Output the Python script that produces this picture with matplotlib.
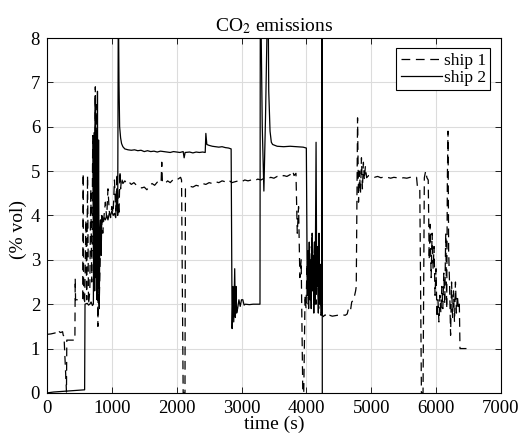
import numpy as np
import matplotlib
matplotlib.use('Agg')
import matplotlib.pyplot as plt

plt.rcParams['font.family'] = ['Liberation Serif', 'DejaVu Serif']
plt.rcParams['mathtext.fontset'] = 'stix'

# ship 1 (dashed)
t_ship1 = [0, 60, 120, 150, 170, 190, 210, 240, 250, 262, 300, 305, 430, 435, 440, 550,
           558, 565, 580, 600, 612, 625, 640, 660, 675, 690, 705, 715, 725, 735, 745, 752,
           760, 768, 775, 785, 795, 805, 820, 840, 860, 880, 900, 920, 940, 960, 980, 1000,
           1020, 1040, 1060, 1080, 1100, 1110, 1125, 1135, 1150, 1170, 1200, 1230, 1260, 1300,
           1340, 1380, 1420, 1460, 1500, 1540, 1580, 1620, 1660, 1700, 1740, 1760, 1770, 1780,
           1820, 1860, 1900, 1940, 1980, 2020, 2060, 2075, 2100, 2128, 2135, 2160, 2200, 2250,
           2300, 2350, 2400, 2450, 2500, 2550, 2600, 2650, 2700, 2750, 2800, 2850, 2900, 2950,
           3000, 3050, 3100, 3150, 3200, 3250, 3300, 3350, 3400, 3450, 3500, 3550, 3600, 3650,
           3700, 3750, 3790, 3810, 3840, 3860, 3880, 3900, 3920, 3945, 3960, 3980, 3995, 4010,
           4030, 4050, 4070, 4090, 4110, 4130, 4150, 4170, 4190, 4210, 4230, 4260, 4290, 4320,
           4360, 4400, 4440, 4480, 4520, 4560, 4600, 4630, 4650, 4680, 4700, 4730, 4760, 4770,
           4790, 4805, 4820, 4835, 4850, 4865, 4880, 4895, 4910, 4930, 4960, 5000, 5050, 5100,
           5150, 5200, 5250, 5300, 5350, 5400, 5450, 5500, 5550, 5600, 5650, 5700, 5715, 5750,
           5775, 5800, 5820, 5840, 5860, 5880, 5895, 5910, 5925, 5940, 5955, 5970, 5985, 6000,
           6015, 6030, 6045, 6060, 6075, 6090, 6105, 6120, 6135, 6150, 6165, 6175, 6185, 6195,
           6210, 6225, 6240, 6255, 6270, 6285, 6300, 6315, 6330, 6345, 6360, 6370, 6470]
co2_ship1 = [1.32, 1.33, 1.35, 1.37, 1.33, 1.38, 1.36, 1.38, 1.30, 1.28, 0.02, 1.19, 1.19, 2.58, 2.10, 2.10,
             4.95, 2.20, 2.00, 3.90, 2.10, 4.90, 2.00, 2.30, 4.60, 2.50, 5.80, 3.20, 5.90, 2.60, 6.90, 3.00,
             6.50, 2.20, 4.10, 1.50, 3.70, 2.00, 3.00, 3.90, 3.60, 4.00, 4.30, 3.95, 4.60, 4.10, 3.95, 4.20,
             4.05, 4.80, 4.10, 4.95, 4.20, 4.00, 5.00, 4.60, 4.85, 4.72, 4.78, 4.72, 4.76, 4.70,
             4.74, 4.68, 4.66, 4.62, 4.64, 4.58, 4.66, 4.72, 4.68, 4.75, 4.72, 4.76, 5.20, 4.75,
             4.72, 4.78, 4.74, 4.80, 4.78, 4.82, 4.86, 4.80, 0.00, 0.00, 4.60, 4.62, 4.66, 4.64,
             4.68, 4.66, 4.72, 4.70, 4.74, 4.72, 4.76, 4.74, 4.78, 4.76, 4.80, 4.74, 4.76, 4.78,
             4.76, 4.80, 4.78, 4.80, 4.78, 4.82, 4.80, 4.84, 4.82, 4.86, 4.84, 4.88, 4.86, 4.90,
             4.88, 4.92, 5.00, 4.90, 4.95, 3.60, 4.20, 2.60, 3.00, 0.00, 0.00, 2.20, 1.90, 2.90,
             2.00, 3.30, 2.20, 3.60, 2.40, 3.40, 2.00, 3.10, 1.90, 2.60, 1.80, 1.72, 1.76, 1.70,
             1.75, 1.73, 1.74, 1.75, 1.74, 1.76, 1.75, 1.78, 1.90, 1.85, 2.05, 2.10, 2.30, 2.40,
             6.20, 4.30, 5.00, 4.50, 5.30, 4.60, 5.20, 4.80, 5.10, 4.85, 4.90, 4.88, 4.86, 4.88,
             4.85, 4.87, 4.86, 4.84, 4.86, 4.85, 4.84, 4.85, 4.84, 4.86, 4.85, 4.86, 4.62, 4.60,
             0.00, 0.00, 4.85, 5.00, 4.85, 4.80, 3.00, 3.80, 2.60, 3.60, 2.80, 3.30, 2.20, 2.80,
             1.70, 2.10, 1.60, 2.20, 1.80, 2.40, 1.90, 2.70, 2.00, 3.60, 1.90, 4.80, 5.90, 3.20,
             2.40, 1.30, 2.50, 1.70, 2.30, 1.60, 2.50, 1.80, 2.20, 1.90, 2.00, 1.00, 1.00]

# ship 2 (solid)
t_ship2 = [0, 100, 200, 300, 400, 500, 580, 586, 620, 640, 660, 680, 700, 715, 725, 735,
           745, 752, 760, 770, 778, 785, 795, 805, 815, 825, 835, 845, 860, 880, 900, 920,
           940, 960, 980, 1000, 1020, 1040, 1060, 1075, 1090, 1100, 1110, 1120, 1135, 1150, 1170, 1200,
           1250, 1300, 1350, 1400, 1450, 1500, 1550, 1600, 1650, 1700, 1750, 1800, 1850, 1900,
           1950, 2000, 2050, 2100, 2115, 2130, 2200, 2250, 2300, 2350, 2400, 2440, 2450, 2465,
           2500, 2550, 2600, 2650, 2700, 2750, 2800, 2840, 2855, 2870, 2880, 2895, 2905, 2915,
           2925, 2940, 2960, 2980, 3000, 3020, 3040, 3060, 3120, 3180, 3240, 3285, 3290, 3300,
           3320, 3345, 3370, 3395, 3410, 3420, 3440, 3460, 3480, 3550, 3650, 3750, 3850, 3950,
           4000, 4015, 4025, 4035, 4045, 4055, 4065, 4075, 4085, 4095, 4105, 4115, 4125, 4135,
           4150, 4160, 4175, 4185, 4195, 4205, 4215, 4225, 4240, 4243, 4246]
co2_ship2 = [0.00, 0.02, 0.03, 0.04, 0.05, 0.06, 0.07, 2.00, 2.02, 1.98, 2.00, 2.05, 1.97, 2.00, 5.80, 2.30,
             6.70, 2.60, 5.90, 2.10, 6.80, 2.40, 5.70, 1.90, 3.60, 3.90, 3.10, 4.00, 3.85, 3.95, 3.90, 4.00,
             3.90, 4.05, 4.00, 4.10, 4.00, 4.05, 3.95, 4.60, 4.00, 9.00, 7.00, 6.00, 5.75, 5.62, 5.55, 5.50,
             5.48, 5.47, 5.48, 5.46, 5.47, 5.44, 5.46, 5.44, 5.45, 5.43, 5.45, 5.44, 5.43, 5.42,
             5.44, 5.43, 5.42, 5.44, 5.30, 5.42, 5.43, 5.41, 5.43, 5.42, 5.43, 5.42, 5.85, 5.60,
             5.58, 5.56, 5.55, 5.54, 5.55, 5.53, 5.52, 5.50, 1.45, 2.40, 1.60, 2.80, 1.70, 2.40,
             1.80, 1.90, 2.10, 1.95, 2.10, 2.10, 1.98, 2.00, 1.99, 2.00, 2.00, 2.00, 9.00, 8.50,
             6.00, 4.55, 6.20, 8.30, 9.00, 6.80, 5.90, 5.65, 5.60, 5.56, 5.55, 5.56, 5.55, 5.54,
             5.52, 2.20, 3.20, 1.90, 3.40, 2.10, 3.00, 1.90, 3.50, 2.30, 3.10, 1.80, 3.40, 2.00,
             5.65, 2.40, 3.30, 1.80, 3.60, 2.00, 2.90, 1.75, 1.80, 9.00, 0.00]

x_ticks = [0, 1000, 2000, 3000, 4000, 5000, 6000, 7000]
y_ticks = [0, 1, 2, 3, 4, 5, 6, 7, 8]

fig = plt.figure(figsize=(5.19, 4.40), dpi=100)
ax = fig.add_axes([0.0906, 0.107, 0.8744, 0.8066])

ax.plot(t_ship1, co2_ship1, color='black', lw=0.9, dashes=(7, 4.5), label='ship 1')
ax.plot(t_ship2, co2_ship2, color='black', lw=0.9, label='ship 2')

ax.set_xlim(0, 7000)
ax.set_ylim(0, 8)
ax.set_xticks(x_ticks)
ax.set_yticks(y_ticks)
ax.grid(True, color='#dcdcdc', lw=0.8)
ax.set_axisbelow(True)
ax.tick_params(direction='in', top=True, right=True, labelsize=13.5, length=4, width=0.6, pad=5)
for s in ax.spines.values():
    s.set_linewidth(0.8)

ax.set_title('CO$_2$ emissions', fontsize=14, pad=5)
ax.set_xlabel('time (s)', fontsize=14, labelpad=-1)
ax.set_ylabel('(% vol)', fontsize=14)
ax.yaxis.set_label_coords(-0.044, 0.46)

leg = ax.legend(loc='upper right', fontsize=12.5, fancybox=False, edgecolor='black',
                framealpha=1, handlelength=2.4, borderaxespad=0.6, borderpad=0.25,
                labelspacing=0.05, handletextpad=0.1)
leg.get_frame().set_linewidth(0.8)

plt.savefig('out.png', dpi=100)
